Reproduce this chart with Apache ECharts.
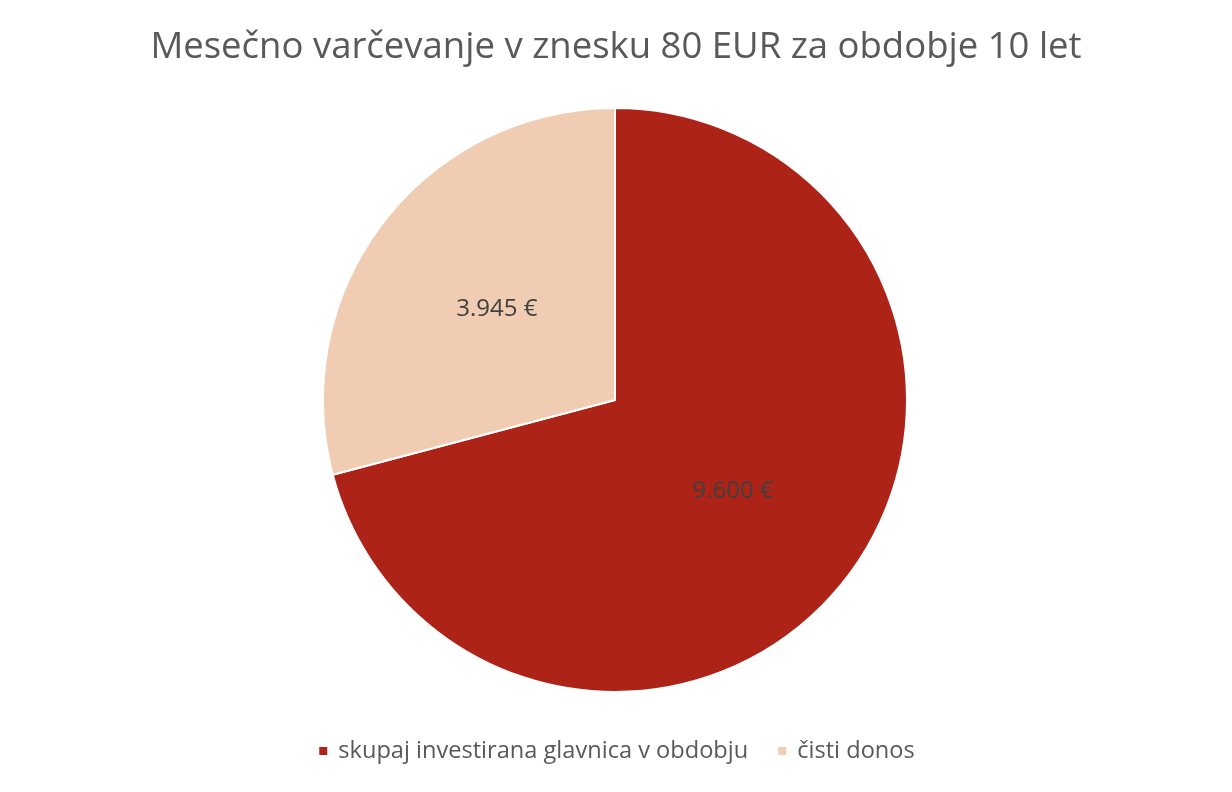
<!DOCTYPE html>
<html><head><meta charset="utf-8">
<script src="https://cdn.jsdelivr.net/npm/echarts@6/dist/echarts.min.js"></script>
<style>html,body{margin:0;padding:0;background:#fff}#c{width:1232px;height:792px}</style>
</head><body><div id="c"></div>
<script>
const title = 'Mesečno varčevanje v znesku 80 EUR za obdobje 10 let';
const categories = ['skupaj investirana glavnica v obdobju', 'čisti donos'];
const values = [9600, 3945];
const colors = ['#AE2318', '#F0CDB2'];
const fmt = v => v.toLocaleString('de-DE') + ' €';
const chart = echarts.init(document.getElementById('c'));
chart.setOption({
  backgroundColor: '#fff',
  color: colors,
  title: {text: title, left: 'center', top: 24,
    textStyle: {fontFamily: 'Open Sans', fontSize: 36.5, fontWeight: 'normal', color: '#595959'}},
  legend: {bottom: 24, left: 'center', itemWidth: 10, itemHeight: 10, icon: 'rect', itemGap: 28,
    textStyle: {fontFamily: 'Open Sans', fontSize: 23.6, color: '#595959', padding: [0, 0, 0, 5]}},
  series: [{
    type: 'pie', center: [615, 400], radius: [0, 292], startAngle: 90, clockwise: true,
    itemStyle: {borderColor: '#fff', borderWidth: 2},
    label: {position: 'inside', formatter: p => fmt(p.value),
      fontFamily: 'Open Sans', fontSize: 24, color: '#404040'},
    labelLine: {show: false},
    data: categories.map((c, i) => ({name: c, value: values[i]}))
  }]
});
</script></body></html>
